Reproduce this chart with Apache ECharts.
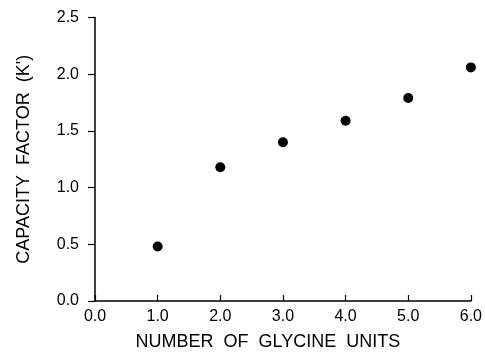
<!DOCTYPE html>
<html>
<head>
<meta charset="utf-8">
<script src="https://cdn.jsdelivr.net/npm/echarts@6/dist/echarts.min.js"></script>
<style>
    html, body { margin: 0; padding: 0; background: #fff; }
    #chart { width: 485px; height: 356px; }
</style>
</head>
<body>
<div id="chart"></div>
<script>
// glycine units vs capacity factor
var glycineUnits = [1, 2, 3, 4, 5, 6]
var capacityFactor = [0.48, 1.18, 1.40, 1.59, 1.79, 2.06]
var xTicks = [0, 1, 2, 3, 4, 5, 6]
var yTicks = [0, 0.5, 1.0, 1.5, 2.0, 2.5]

var font = 'Liberation Sans, Arial, sans-serif'

var chart = echarts.init(document.getElementById('chart'))
chart.setOption({
    animation: false,
    backgroundColor: '#fff',
    grid: {
        left: 95,
        right: 10,
        top: 17.5,
        bottom: 54
    },
    xAxis: {
        type: 'value',
        min: xTicks[0],
        max: xTicks[xTicks.length - 1],
        interval: 1,
        name: 'NUMBER  OF  GLYCINE  UNITS',
        nameLocation: 'middle',
        nameGap: 32,
        nameTextStyle: {
            fontFamily: font,
            fontSize: 18,
            color: '#000',
            padding: [0, 30, 0, 0]
        },
        axisLine: { lineStyle: { color: '#000', width: 1.5 } },
        axisTick: { inside: true, length: 6, lineStyle: { color: '#000', width: 1.2 } },
        axisLabel: {
            margin: 8,
            fontFamily: font,
            fontSize: 16,
            color: '#000',
            formatter: function (v) { return v.toFixed(1) }
        },
        splitLine: { show: false }
    },
    yAxis: {
        type: 'value',
        min: yTicks[0],
        max: yTicks[yTicks.length - 1],
        interval: 0.5,
        name: "CAPACITY  FACTOR  (K')",
        nameLocation: 'middle',
        nameGap: 62,
        nameTextStyle: {
            fontFamily: font,
            fontSize: 18,
            color: '#000'
        },
        axisLine: { show: true, lineStyle: { color: '#000', width: 1.5 } },
        axisTick: { show: true, length: 7, lineStyle: { color: '#000', width: 1.2 } },
        axisLabel: {
            margin: 16,
            fontFamily: font,
            fontSize: 16,
            color: '#000',
            formatter: function (v) { return v.toFixed(1) }
        },
        splitLine: { show: false }
    },
    series: [{
        type: 'scatter',
        symbol: 'circle',
        symbolSize: 10,
        itemStyle: { color: '#000', opacity: 1 },
        data: glycineUnits.map(function (x, i) { return [x, capacityFactor[i]] })
    }]
})
</script>
</body>
</html>
